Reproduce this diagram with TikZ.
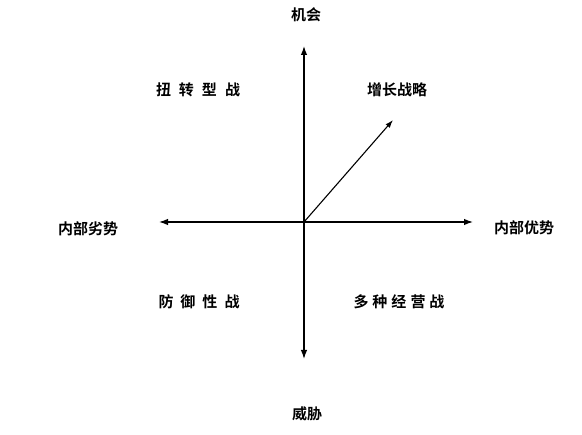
\documentclass[tikz,border=0pt]{standalone}
\usepackage{fontspec}
\newfontfamily\cjk{Noto Sans CJK SC}[BoldFont=* Bold]
\usetikzlibrary{arrows.meta}
\begin{document}
\begin{tikzpicture}[x=1pt,y=-1pt,
  lbl/.style={font=\cjk\bfseries\fontsize{15}{15}\selectfont, inner sep=0pt},
  axis/.style={line width=1.3pt,-{Latex[length=9pt,width=6.5pt]}},
  diag/.style={line width=1.1pt,-{Latex[length=8pt,width=5.5pt]}}]
\useasboundingbox (0,0) rectangle (582,435);
\coordinate (o) at (304,222);
\coordinate (top) at (304,46);
\coordinate (bot) at (304,359);
\coordinate (lft) at (159,222);
\coordinate (rgt) at (473,222);
\coordinate (d) at (393,120);
\draw[axis] (o) -- (top);
\draw[axis] (o) -- (bot);
\draw[axis] (o) -- (lft);
\draw[axis] (o) -- (rgt);
\draw[diag] (o) -- (d);
\node[lbl] (opp) at (306,15) {机会};
\node[lbl] (thr) at (307,414) {威胁};
\node[lbl] (weak) at (88,229) {内部劣势};
\node[lbl] (str) at (524,228) {内部优势};
\node[lbl] (q2) at (198,90) {扭\hspace{8pt}转\hspace{8pt}型\hspace{8pt}战};
\node[lbl] (q1) at (397,90) {增长战略};
\node[lbl] (q3) at (199,302) {防\hspace{7pt}御\hspace{7pt}性\hspace{7pt}战};
\node[lbl] (q4) at (399,302) {多\hspace{4pt}种\hspace{4pt}经\hspace{4pt}营\hspace{4pt}战};
\end{tikzpicture}
\end{document}
